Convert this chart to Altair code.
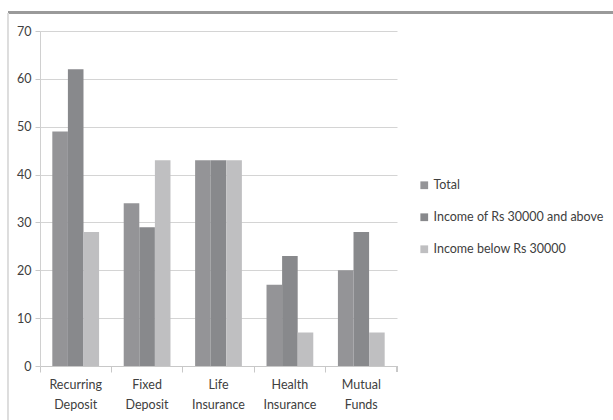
import altair as alt
import pandas as pd

categories = ["Recurring Deposit", "Fixed Deposit", "Life Insurance", "Health Insurance", "Mutual Funds"]
series = ["Total", "Income of Rs 30000 and above", "Income below Rs 30000"]
total = [49, 34, 43, 17, 20]
above = [62, 29, 43, 23, 28]
below = [28, 43, 43, 7, 7]
colors = ["#949497", "#88898c", "#bfbfc1"]

rows = []
for i, c in enumerate(categories):
    for s, vals in zip(series, [total, above, below]):
        rows.append({"category": c, "series": s, "value": vals[i]})
df = pd.DataFrame(rows)

FONT = "Lato"
FS = 12.5

bars = alt.Chart(df).mark_bar().encode(
    x=alt.X("category:N", sort=categories, title=None,
            scale=alt.Scale(paddingInner=0, paddingOuter=0),
            axis=alt.Axis(labelAngle=0, labelExpr="split(datum.label, ' ')",
                          bandPosition=0, ticks=True, tickSize=6, tickColor="#c8c8c8",
                          domainColor="#c8c8c8", labelColor="#404040", labelFont=FONT,
                          labelFontSize=FS, labelLineHeight=20, labelPadding=6, grid=False)),
    xOffset=alt.XOffset("series:N", sort=series,
                        scale=alt.Scale(paddingInner=0, paddingOuter=0.79)),
    y=alt.Y("value:Q", title=None,
            scale=alt.Scale(domain=[0, 70], nice=False),
            axis=alt.Axis(values=[0, 10, 20, 30, 40, 50, 60, 70], tickSize=5,
                          tickColor="#c8c8c8", domainColor="#d0d0d0",
                          gridColor="#d4d4d4", labelColor="#404040", labelFont=FONT,
                          labelFontSize=FS, labelPadding=4)),
    color=alt.Color("series:N", sort=series,
                    scale=alt.Scale(domain=series, range=colors),
                    legend=alt.Legend(title=None, orient="none", legendX=378, legendY=148,
                                      symbolType="square", symbolSize=60,
                                      symbolStrokeWidth=0, rowPadding=19, labelLimit=0,
                                      labelFont=FONT, labelFontSize=FS,
                                      labelColor="#404040", labelOffset=3)),
)

end_tick = alt.Chart(df).mark_rule(color="#c8c8c8", strokeWidth=1).encode(
    x=alt.value(357), y=alt.value(335), y2=alt.value(341)
)
frame_top = alt.Chart(df).mark_rule(color="#9a9a9a", strokeWidth=2).encode(
    x=alt.value(-32), x2=alt.value(580), y=alt.value(-18.5)
)
frame_left = alt.Chart(df).mark_rule(color="#dddddd", strokeWidth=1).encode(
    x=alt.value(-32), y=alt.value(-18), y2=alt.value(400)
)

chart = alt.layer(bars, end_tick, frame_top, frame_left).properties(
    width=357, height=335,
    autosize=alt.AutoSizeParams(type="none"),
    padding={"left": 40, "top": 31, "right": 216, "bottom": 54},
    background="white",
).configure_view(stroke=None)

chart.save("out.html", embed_options={"renderer": "svg", "actions": False})
